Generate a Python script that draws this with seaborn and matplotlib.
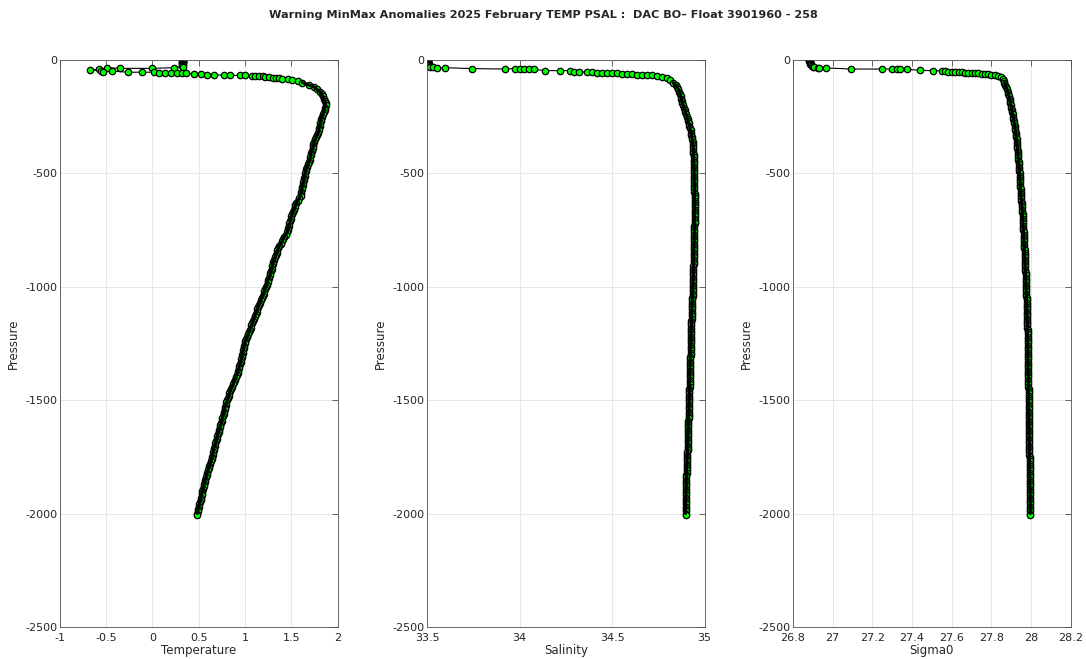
import numpy as np
import pandas as pd
import matplotlib
matplotlib.use("Agg")
import matplotlib.pyplot as plt
import seaborn as sns

# Surface layer (0-100 dbar), each variable has its own sampling path
pres_t_surf = [1, 3, 5, 7, 9, 11, 13, 15, 18, 22, 26, 29, 34, 37, 37, 34, 41, 44, 47, 51,
               49, 54, 54, 54, 57, 59, 59, 59, 59, 59, 62, 63, 65, 65, 68, 68, 68, 68, 71, 71,
               71, 72, 73, 76, 78, 79, 81, 82, 85, 88, 94]
temp_surf = [0.33, 0.33, 0.32, 0.33, 0.32, 0.33, 0.32, 0.33, 0.32, 0.33, 0.32, 0.33, 0.23, 0.0, -0.35,
             -0.49, -0.58, -0.67, -0.56, -0.53, -0.44, -0.26, -0.11, 0.015, 0.07, 0.14, 0.2, 0.27, 0.32,
             0.36, 0.45, 0.52, 0.59, 0.66, 0.77, 0.84, 0.95, 1.0, 1.08, 1.11, 1.15, 1.19, 1.22, 1.26,
             1.30, 1.33, 1.37, 1.40, 1.46, 1.51, 1.57]

pres_s_surf = [1, 2, 4, 6, 8, 10, 13, 16, 19, 22, 26, 29, 33, 36, 34, 38, 40, 38, 41, 41,
               41, 41, 47, 47, 47, 51, 51, 54, 54, 56, 56, 57, 59, 59, 60, 62, 63, 65, 65, 66,
               68, 70, 73, 81, 90]
psal_surf = [33.505, 33.503, 33.505, 33.504, 33.506, 33.505, 33.507, 33.508, 33.51, 33.512, 33.514,
             33.517, 33.535, 33.553, 33.598, 33.742, 33.922, 33.976, 34.004, 34.022, 34.049, 34.076,
             34.139, 34.22, 34.274, 34.292, 34.319, 34.364, 34.391, 34.418, 34.445, 34.472, 34.5,
             34.526, 34.553, 34.581, 34.608, 34.635, 34.662, 34.689, 34.716, 34.743, 34.77, 34.797,
             34.815]

pres_d_surf = [1, 2, 4, 6, 8, 10, 13, 16, 19, 22, 26, 29, 32, 35, 37, 35, 40, 40, 40, 41,
               41, 41, 46, 47, 48, 50, 51, 51, 53, 54, 54, 56, 56, 57, 59, 59, 60, 62, 63, 65,
               68, 71, 73, 85, 93]
sig_surf = [26.883, 26.882, 26.883, 26.884, 26.884, 26.885, 26.886, 26.888, 26.89, 26.893, 26.896,
            26.9, 26.908, 26.925, 26.933, 26.967, 27.092, 27.25, 27.3, 27.325, 27.342, 27.375,
            27.442, 27.504, 27.551, 27.568, 27.584, 27.601, 27.618, 27.635, 27.651, 27.668, 27.685,
            27.701, 27.718, 27.735, 27.751, 27.768, 27.785, 27.801, 27.818, 27.835, 27.851, 27.86,
            27.864]

# Deeper part (100-2000 dbar), shared pressure levels
pres_deep = [100, 110, 120, 130, 140, 150, 160, 170, 180, 190,
             200, 210, 220, 230, 240, 250, 260, 270, 280, 290,
             300, 310, 320, 330, 340, 350, 360, 370, 380, 390,
             400, 410, 420, 430, 440, 450, 460, 470, 480, 490,
             500, 510, 520, 530, 540, 550, 560, 570, 580, 590,
             600, 610, 620, 630, 640, 650, 660, 670, 680, 690,
             700, 710, 720, 730, 740, 750, 760, 770, 780, 790,
             800, 810, 820, 830, 840, 850, 860, 870, 880, 890,
             900, 910, 920, 930, 940, 950, 960, 970, 980, 990,
             1000, 1010, 1020, 1030, 1040, 1050, 1060, 1070, 1080, 1090,
             1100, 1110, 1120, 1130, 1140, 1150, 1160, 1170, 1180, 1190,
             1200, 1210, 1220, 1230, 1240, 1250, 1260, 1270, 1280, 1290,
             1300, 1310, 1320, 1330, 1340, 1350, 1360, 1370, 1380, 1390,
             1400, 1410, 1420, 1430, 1440, 1450, 1460, 1470, 1480, 1490,
             1500, 1510, 1520, 1530, 1540, 1550, 1560, 1570, 1580, 1590,
             1600, 1610, 1620, 1630, 1640, 1650, 1660, 1670, 1680, 1690,
             1700, 1710, 1720, 1730, 1740, 1750, 1760, 1770, 1780, 1790,
             1800, 1810, 1820, 1830, 1840, 1850, 1860, 1870, 1880, 1890,
             1900, 1910, 1920, 1930, 1940, 1950, 1960, 1970, 1980, 1990,
             2000, 2008]
temp_deep = [1.62, 1.69, 1.75, 1.78, 1.81, 1.83, 1.84, 1.85, 1.86, 1.87,
             1.87, 1.86, 1.86, 1.85, 1.84, 1.83, 1.82, 1.82, 1.81, 1.81,
             1.80, 1.80, 1.79, 1.78, 1.77, 1.76, 1.75, 1.74, 1.74, 1.73,
             1.72, 1.715, 1.71, 1.705, 1.70, 1.69, 1.68, 1.67, 1.66, 1.655,
             1.65, 1.645, 1.64, 1.635, 1.63, 1.625, 1.62, 1.615, 1.61, 1.605,
             1.60, 1.585, 1.57, 1.555, 1.545, 1.54, 1.53, 1.52, 1.51, 1.50,
             1.495, 1.49, 1.48, 1.475, 1.47, 1.465, 1.455, 1.44, 1.42, 1.41,
             1.40, 1.385, 1.37, 1.36, 1.35, 1.345, 1.335, 1.325, 1.315, 1.305,
             1.30, 1.295, 1.29, 1.28, 1.275, 1.27, 1.26, 1.25, 1.245, 1.235,
             1.225, 1.215, 1.21, 1.20, 1.19, 1.18, 1.17, 1.16, 1.15, 1.14,
             1.135, 1.125, 1.115, 1.105, 1.095, 1.09, 1.08, 1.07, 1.06, 1.05,
             1.045, 1.035, 1.025, 1.015, 1.005, 0.995, 0.99, 0.985, 0.98, 0.975,
             0.97, 0.965, 0.96, 0.955, 0.95, 0.94, 0.935, 0.925, 0.92, 0.91,
             0.90, 0.89, 0.88, 0.87, 0.86, 0.85, 0.84, 0.83, 0.825, 0.815,
             0.81, 0.80, 0.795, 0.785, 0.78, 0.775, 0.77, 0.76, 0.755, 0.75,
             0.745, 0.735, 0.73, 0.72, 0.715, 0.705, 0.70, 0.695, 0.69, 0.68,
             0.675, 0.665, 0.66, 0.655, 0.65, 0.645, 0.64, 0.63, 0.625, 0.615,
             0.61, 0.60, 0.59, 0.585, 0.58, 0.57, 0.565, 0.56, 0.555, 0.545,
             0.54, 0.535, 0.53, 0.525, 0.52, 0.51, 0.505, 0.50, 0.495, 0.49,
             0.485, 0.483]
psal_deep = [34.83, 34.843, 34.852, 34.858, 34.863, 34.867, 34.871, 34.874, 34.877, 34.88,
             34.884, 34.888, 34.892, 34.896, 34.9, 34.904, 34.908, 34.911, 34.915, 34.918,
             34.921, 34.924, 34.927, 34.929, 34.931, 34.933, 34.935, 34.937, 34.938, 34.939,
             34.94, 34.94, 34.941, 34.941, 34.942, 34.942, 34.942, 34.943, 34.943, 34.943,
             34.943, 34.944, 34.944, 34.944, 34.944, 34.945, 34.945, 34.945, 34.945, 34.946,
             34.946, 34.946, 34.946, 34.947, 34.947, 34.947, 34.947, 34.947, 34.946, 34.946,
             34.946, 34.946, 34.946, 34.945, 34.945, 34.945, 34.945, 34.945, 34.945, 34.944,
             34.944, 34.943, 34.943, 34.942, 34.942, 34.942, 34.942, 34.941, 34.941, 34.941,
             34.941, 34.94, 34.94, 34.939, 34.939, 34.939, 34.939, 34.938, 34.938, 34.937,
             34.937, 34.936, 34.936, 34.935, 34.935, 34.934, 34.934, 34.933, 34.933, 34.932,
             34.932, 34.931, 34.931, 34.93, 34.93, 34.929, 34.929, 34.929, 34.929, 34.928,
             34.928, 34.927, 34.927, 34.927, 34.927, 34.926, 34.926, 34.925, 34.925, 34.924,
             34.924, 34.923, 34.923, 34.922, 34.922, 34.921, 34.921, 34.92, 34.92, 34.92,
             34.92, 34.919, 34.919, 34.919, 34.919, 34.918, 34.918, 34.918, 34.918, 34.917,
             34.917, 34.916, 34.916, 34.916, 34.916, 34.915, 34.915, 34.914, 34.914, 34.913,
             34.913, 34.912, 34.912, 34.911, 34.911, 34.91, 34.91, 34.91, 34.91, 34.909,
             34.909, 34.908, 34.908, 34.907, 34.907, 34.906, 34.906, 34.905, 34.905, 34.904,
             34.904, 34.903, 34.903, 34.902, 34.902, 34.901, 34.901, 34.901, 34.901, 34.9,
             34.9, 34.9, 34.9, 34.899, 34.899, 34.898, 34.898, 34.898, 34.898, 34.897,
             34.897, 34.897]
sig_deep = [27.866, 27.871, 27.875, 27.879, 27.883, 27.886, 27.889, 27.892, 27.894, 27.896,
            27.899, 27.901, 27.903, 27.905, 27.908, 27.91, 27.912, 27.914, 27.916, 27.918,
            27.92, 27.922, 27.923, 27.925, 27.926, 27.928, 27.929, 27.93, 27.931, 27.932,
            27.933, 27.934, 27.935, 27.936, 27.937, 27.938, 27.939, 27.94, 27.941, 27.942,
            27.943, 27.943, 27.944, 27.945, 27.946, 27.946, 27.947, 27.948, 27.949, 27.949,
            27.95, 27.951, 27.952, 27.953, 27.954, 27.955, 27.956, 27.957, 27.958, 27.958,
            27.959, 27.959, 27.96, 27.96, 27.961, 27.962, 27.963, 27.963, 27.964, 27.964,
            27.965, 27.966, 27.967, 27.967, 27.968, 27.968, 27.969, 27.969, 27.97, 27.97,
            27.971, 27.971, 27.972, 27.972, 27.973, 27.973, 27.974, 27.974, 27.975, 27.975,
            27.976, 27.976, 27.977, 27.977, 27.977, 27.978, 27.978, 27.979, 27.979, 27.98,
            27.98, 27.98, 27.98, 27.981, 27.981, 27.981, 27.982, 27.982, 27.982, 27.983,
            27.983, 27.983, 27.983, 27.984, 27.984, 27.984, 27.984, 27.985, 27.985, 27.985,
            27.985, 27.985, 27.985, 27.986, 27.986, 27.986, 27.986, 27.986, 27.986, 27.987,
            27.987, 27.987, 27.987, 27.987, 27.987, 27.988, 27.988, 27.988, 27.988, 27.988,
            27.988, 27.989, 27.989, 27.989, 27.989, 27.989, 27.989, 27.99, 27.99, 27.99,
            27.99, 27.99, 27.99, 27.991, 27.991, 27.991, 27.991, 27.991, 27.991, 27.992,
            27.992, 27.992, 27.992, 27.992, 27.992, 27.993, 27.993, 27.993, 27.993, 27.994,
            27.994, 27.994, 27.994, 27.995, 27.995, 27.995, 27.995, 27.995, 27.995, 27.996,
            27.996, 27.996, 27.996, 27.996, 27.996, 27.997, 27.997, 27.997, 27.997, 27.997,
            27.997, 27.997]

title = "Warning MinMax Anomalies 2025 February TEMP PSAL :  DAC BO\u2013 Float 3901960 - 258"

panels = [
    ("Temperature", pres_t_surf, temp_surf, temp_deep, (-1, 2), [-1, -0.5, 0, 0.5, 1, 1.5, 2]),
    ("Salinity", pres_s_surf, psal_surf, psal_deep, (33.5, 35), [33.5, 34, 34.5, 35]),
    ("Sigma0", pres_d_surf, sig_surf, sig_deep, (26.8, 28.2),
     [26.8, 27, 27.2, 27.4, 27.6, 27.8, 28, 28.2]),
]

sns.set_style("white")
plt.rcParams['font.family'] = ['DejaVu Sans']
plt.rcParams['axes.unicode_minus'] = False

fig = plt.figure(figsize=(10.86, 6.59), dpi=100)
lefts = [0.0552, 0.3932, 0.7302]

for i, (name, p_surf, v_surf, v_deep, xlim, xticks) in enumerate(panels):
    ax = fig.add_axes([lefts[i], 0.0486, 0.2556, 0.8604])
    df = pd.DataFrame({"x": v_surf + v_deep, "p": [-p for p in p_surf + pres_deep]})
    sns.lineplot(data=df, x="x", y="p", sort=False, estimator=None, ax=ax,
                 color="black", linewidth=0.8, marker="o", markersize=4.6,
                 markerfacecolor="#00ff00", markeredgecolor="black", markeredgewidth=0.9)
    # densely sampled part: overlapping marker edges read as a dark band
    deep = pd.DataFrame({"x": v_deep, "p": [-p for p in pres_deep]})
    sns.lineplot(data=deep.iloc[:-1], x="x", y="p", sort=False, estimator=None, ax=ax,
                 color="black", linewidth=2.2, zorder=3)
    ax.set_xlim(*xlim)
    ax.set_ylim(-2500, 0)
    ax.set_xticks(xticks)
    ax.set_xticklabels([f"{t:g}" for t in xticks])
    ax.set_yticks([-2500, -2000, -1500, -1000, -500, 0])
    ax.grid(True, color="#e3e3e3", linewidth=0.6)
    for s in ax.spines.values():
        s.set_color("#4d4d4d")
        s.set_linewidth(0.6)
    ax.tick_params(direction="in", top=True, right=True, length=4, width=0.6,
                   colors="#4d4d4d", labelcolor="#262626", labelsize=8)
    ax.tick_params(axis="x", pad=4)
    ax.tick_params(axis="y", pad=2)
    ax.set_xlabel(name, fontsize=8.5, labelpad=1, color="#262626")
    ax.set_ylabel("Pressure", fontsize=8.5, labelpad=4, color="#262626")

fig.suptitle(title, fontsize=8.1, fontweight="bold", y=0.985)
fig.savefig("out.png", dpi=100)
